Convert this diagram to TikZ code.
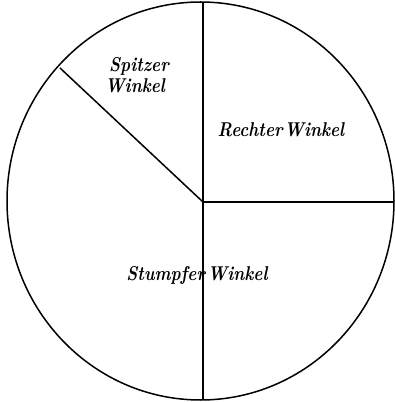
\documentclass[tikz,border=0pt]{standalone}
\begin{document}
\begin{tikzpicture}[x=1pt,y=1pt,
  ln/.style={line width=1.5pt,black},
  lbl/.style={font=\fontsize{20}{22}\selectfont\bfseries\itshape,inner sep=0pt,xscale=0.85}]
\useasboundingbox (0,0) rectangle (394,402);
\draw[ln] (200.5,201) ellipse [x radius=193.5, y radius=199];
\coordinate (c) at (203,200);
\coordinate (top) at (203,400);
\coordinate (bot) at (203,2);
\coordinate (rt) at (394,200);
\coordinate (ul) at (60,334);
\draw[ln] (top) -- (bot);
\draw[ln] (c) -- (rt);
\draw[ln] (c) -- (ul);
\node[lbl] (s1) at (139,336) {Spitzer};
\node[lbl] (s2) at (135,316) {Winkel};
\node[lbl] (r) at (281,272) {Rechter\hspace{0.1em}Winkel};
\node[lbl] (st) at (197,127) {Stumpfer\hspace{0.15em}Winkel};
\end{tikzpicture}
\end{document}
